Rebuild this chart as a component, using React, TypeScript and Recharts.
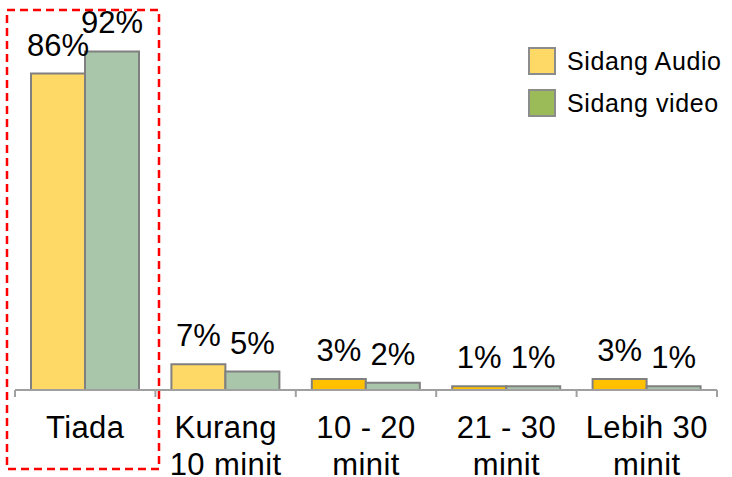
import { Bar, BarChart, Cell, LabelList, XAxis, YAxis } from "recharts";

const categories = ["Tiada", "Kurang\n10 minit", "10 - 20\nminit", "21 - 30\nminit", "Lebih 30\nminit"];
const audio = [86, 7, 3, 1, 3];
const video = [92, 5, 2, 1, 1];
const seriesNames = ["Sidang Audio", "Sidang video"];

const audioFills = ["#FFD966", "#FFD966", "#FFC000", "#FFC000", "#FFC000"];
const videoFill = "#A9C5AA";
const FONT = "'Liberation Sans', Arial, sans-serif";
const BAND = (732 - 30) / 5;

const data = categories.map((name, i) => ({ name, audio: audio[i], video: video[i] }));

function CategoryTick(props: any) {
  const { x, y, payload, index } = props;
  const lines = String(payload.value).split("\n");
  const left = x - BAND / 2;
  return (
    <g>
      <line x1={left} y1={y - 8} x2={left} y2={y - 1} stroke="#A0A0A0" strokeWidth={2} />
      {index === categories.length - 1 && (
        <line x1={left + BAND} y1={y - 8} x2={left + BAND} y2={y - 1} stroke="#A0A0A0" strokeWidth={2} />
      )}
      <text x={x} y={y} textAnchor="middle" fontFamily={FONT} fontSize={31} letterSpacing={0.4} fill="#000">
        {lines.map((l, i) => (
          <tspan key={i} x={x} dy={i === 0 ? 40 : 37}>
            {l}
          </tspan>
        ))}
      </text>
    </g>
  );
}

function PctLabel(props: any) {
  const { x, y, width, value } = props;
  return (
    <text x={x + width / 2} y={y - 18} textAnchor="middle" fontFamily={FONT} fontSize={31} fill="#000">
      {`${value}%`}
    </text>
  );
}

function LegendBox() {
  const items = [
    { name: seriesNames[0], color: "#FFD966" },
    { name: seriesNames[1], color: "#9BBB59" },
  ];
  return (
    <div style={{ position: "absolute", left: 528, top: 40, fontFamily: FONT, fontSize: 25, letterSpacing: 0.6 }}>
      {items.map((it) => (
        <div key={it.name} style={{ display: "flex", alignItems: "center", height: 42 }}>
          <span
            style={{
              width: 24,
              height: 24,
              background: it.color,
              border: "2px solid #8C8C8C",
              marginRight: 11,
              display: "inline-block",
              flexShrink: 0,
            }}
          />
          <span style={{ whiteSpace: "nowrap" }}>{it.name}</span>
        </div>
      ))}
    </div>
  );
}

export default function App() {
  return (
    <div style={{ position: "absolute", left: 0, top: 0, width: 732, height: 477, background: "#fff" }}>
      <BarChart
        width={732}
        height={477}
        data={data}
        margin={{ top: 22, right: 15, left: 15, bottom: 0 }}
        barCategoryGap="11.4%"
        barGap={0}
      >
        <XAxis
          dataKey="name"
          height={87}
          interval={0}
          tickLine={false}
          axisLine={{ stroke: "#A0A0A0", strokeWidth: 2 }}
          tick={<CategoryTick />}
        />
        <YAxis hide domain={[0, 100]} />
        <Bar dataKey="audio" name={seriesNames[0]} stroke="#808080" strokeWidth={2} isAnimationActive={false}>
          {data.map((d, i) => (
            <Cell key={d.name} fill={audioFills[i]} />
          ))}
          <LabelList dataKey="audio" content={<PctLabel />} />
        </Bar>
        <Bar dataKey="video" name={seriesNames[1]} fill={videoFill} stroke="#808080" strokeWidth={2} isAnimationActive={false}>
          <LabelList dataKey="video" content={<PctLabel />} />
        </Bar>
      </BarChart>
      <LegendBox />
      <svg
        width={732}
        height={477}
        style={{ position: "absolute", left: 0, top: 0, pointerEvents: "none" }}
      >
        <rect x={7} y={10} width={152} height={459} fill="none" stroke="#FF0000" strokeWidth={2.5} strokeDasharray="8 5" />
      </svg>
    </div>
  );
}
